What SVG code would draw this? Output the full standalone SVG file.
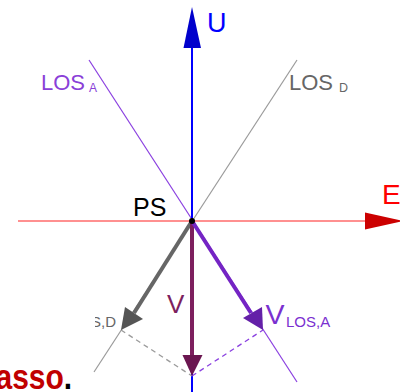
<svg xmlns="http://www.w3.org/2000/svg" width="400" height="392" viewBox="0 0 400 392">
<style>
text{font-family:"Liberation Sans",Arial,sans-serif}
.los{fill:none;stroke-width:1.2}
.vec{fill:none;stroke-width:4}
.dash{fill:none;stroke-width:1.3;stroke-dasharray:5,4}
</style>
<defs>
<clipPath id="clipSD"><rect x="95" y="290" width="40" height="50"/></clipPath>
</defs>
<rect width="400" height="392" fill="#fff"/>
<g id="connectors">
<line class="los" x1="89" y1="60" x2="297" y2="382" stroke="#8a3fe0"/>
<line class="los" x1="297" y1="60" x2="94" y2="372" stroke="#9a9a9a" stroke-width="1"/>
<line x1="18" y1="221" x2="368" y2="221" stroke="#ff6b6b" stroke-width="1.6"/>
<polygon points="365,212.5 403,221 365,229.5" fill="#cc0000"/>
<line x1="192" y1="392" x2="192" y2="46" stroke="#0000ff" stroke-width="2"/>
<polygon points="192,7 183.5,48 201,48" fill="#0000cc"/>
<line class="dash" x1="121" y1="330" x2="192" y2="376" stroke="#9a9a9a"/>
<line class="dash" x1="192" y1="376" x2="263" y2="330" stroke="#8a40e0"/>
<line class="vec" x1="192" y1="221" x2="134" y2="313" stroke="#666"/>
<polygon points="121,330 125,307 143,319" fill="#555"/>
<line class="vec" x1="192" y1="221" x2="192" y2="357" stroke="#7d1f5e"/>
<polygon points="192,376 182.5,355 202.5,355" fill="#6b1650"/>
<line class="vec" x1="192" y1="221" x2="251" y2="313" stroke="#7424c4"/>
<polygon points="263,330 243,318 262,307" fill="#6420a8"/>
</g>
<g id="PS">
<circle cx="192" cy="221" r="3" fill="#000"/>
<text x="133" y="216" font-size="25" fill="#000">PS</text>
</g>
<g id="U"><text x="207" y="32" font-size="27" fill="#0000ff">U</text></g>
<g id="E"><text x="382" y="204" font-size="28" fill="#ff0000">E</text></g>
<g id="LOSA"><text x="41" y="90" font-size="22" fill="#8a3fd8">LOS<tspan x="89" y="92" font-size="12">A</tspan></text></g>
<g id="LOSD"><text x="289" y="90" font-size="22" fill="#666">LOS<tspan x="339" y="92" font-size="12.5">D</tspan></text></g>
<g id="V"><text x="167" y="313" font-size="26" fill="#7d1f5e">V</text></g>
<g id="VLOSA"><text x="265.5" y="324" font-size="28.5" fill="#7a30d0">V<tspan x="286" y="327" font-size="15">LOS,A</tspan></text></g>
<g id="VLOSD"><text x="71" y="327" font-size="15" fill="#666" clip-path="url(#clipSD)">LOS,D</text></g>
<g id="caption"><text transform="translate(-4.5,389) scale(1,1.15)" font-size="30" font-weight="bold" fill="#c00000">asso<tspan fill="#000">.</tspan></text></g>
</svg>
